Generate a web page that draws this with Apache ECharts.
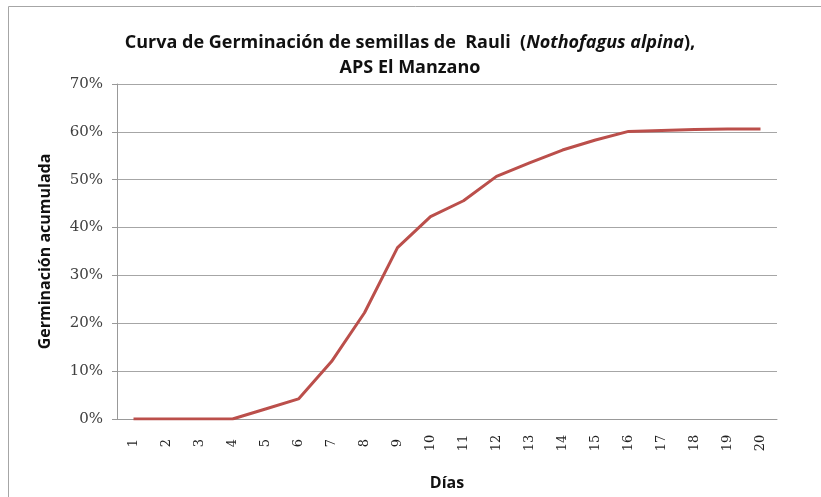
<!DOCTYPE html>
<html>
<head>
<meta charset="utf-8">
<script src="https://cdn.jsdelivr.net/npm/echarts@6/dist/echarts.min.js"></script>
<style>
  html, body { margin: 0; padding: 0; background: #fff; }
  #chart { width: 821px; height: 497px; }
</style>
</head>
<body>
<div id="chart"></div>
<script>
// dias de ensayo
var dias = ['1','2','3','4','5','6','7','8','9','10','11','12','13','14','15','16','17','18','19','20'];
// germinacion acumulada (%)
var germinacion = [0, 0, 0, 0, 2.1, 4.2, 12, 22.2, 35.8, 42.3, 45.6, 50.7, 53.5, 56.2, 58.3, 60.1, 60.3, 60.5, 60.6, 60.6];

var myChart = echarts.init(document.getElementById('chart'));
myChart.setOption({
	animation: false,
	graphic: [{
		type: 'rect',
		shape: { x: 8.5, y: 6.5, width: 830, height: 510 },
		style: { fill: 'none', stroke: '#a6a6a6', lineWidth: 1 },
		silent: true
	}],
	title: {
		left: 405,
		top: 25,
		textAlign: 'center',
		text: '{b|Curva de Germinación de semillas de  Rauli  (}{i|Nothofagus alpina}{b|),}\n{b|APS El Manzano}',
		textStyle: {
			rich: {
				b: { fontFamily: 'Open Sans', fontWeight: 'bold', fontSize: 18, color: '#111', lineHeight: 25 },
				i: { fontFamily: 'Open Sans', fontWeight: 'bold', fontStyle: 'italic', fontSize: 18, color: '#111', lineHeight: 25 }
			}
		}
	},
	grid: {
		left: 117,
		right: 44,
		top: 84,
		bottom: 78,
		containLabel: false,
		outerBoundsMode: 'none'
	},
	xAxis: {
		type: 'category',
		data: dias,
		boundaryGap: true,
		name: 'Días',
		nameLocation: 'middle',
		nameGap: 56,
		nameTextStyle: { fontFamily: 'Open Sans', fontWeight: 'bold', fontSize: 16, color: '#111' },
		axisLine: { lineStyle: { color: '#999', width: 1 } },
		axisTick: { show: false },
		axisLabel: {
			rotate: 90,
			align: 'center',
			verticalAlign: 'middle',
			margin: 24,
			interval: 0,
			fontFamily: 'DejaVu Serif',
			fontSize: 13,
			color: '#222'
		}
	},
	yAxis: {
		type: 'value',
		min: 0,
		max: 70,
		interval: 10,
		name: 'Germinación acumulada',
		nameLocation: 'middle',
		nameGap: 64,
		nameTextStyle: { fontFamily: 'Open Sans', fontWeight: 'bold', fontSize: 16, color: '#111' },
		axisLine: { show: true, lineStyle: { color: '#999', width: 1 } },
		axisTick: { show: true, length: 5, lineStyle: { color: '#999' } },
		axisLabel: {
			formatter: '{value}%',
			margin: 14,
			fontFamily: 'DejaVu Serif',
			fontSize: 15,
			color: '#404040'
		},
		splitLine: { show: true, lineStyle: { color: '#a6a6a6', width: 1 } }
	},
	series: [{
		name: 'Germinación acumulada',
		type: 'line',
		data: germinacion,
		symbol: 'none',
		smooth: false,
		lineStyle: { color: '#bb4f4b', width: 3 },
		itemStyle: { color: '#bb4f4b' }
	}]
});
</script>
</body>
</html>
